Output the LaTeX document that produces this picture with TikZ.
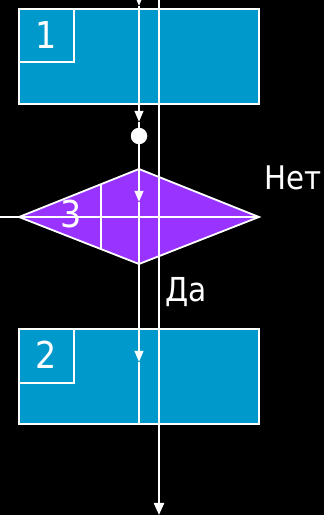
\documentclass[tikz,border=0pt]{standalone}
\usepackage{fontspec}
\setmainfont{DejaVu Sans Condensed}
\usetikzlibrary{arrows.meta}
\definecolor{boxblue}{RGB}{0,153,204}
\definecolor{diapurple}{RGB}{153,51,255}
\tikzset{
  wline/.style={draw=white, line width=2.2pt},
  blk/.style={fill=boxblue, draw=white, line width=2.2pt},
  tip/.style={-{Triangle[width=8.5pt,length=11pt]}},
  bigtip/.style={-{Triangle[width=10pt,length=12pt]}},
  lbl/.style={text=white, inner sep=0pt},
}
\begin{document}
\begin{tikzpicture}[x=1pt,y=1pt]
\useasboundingbox[fill=black] (0,0) rectangle (324,515);
% boxes
\path[blk] (19,411) rectangle (259,506);
\path[blk] (19,453) rectangle (74,506);
\path[blk] (19,91) rectangle (259,186);
\path[blk] (19,132) rectangle (74,186);
% diamond
\path[fill=diapurple, draw=white, line width=1.8pt, line join=miter]
  (19,298) coordinate (dl) -- (139,346) coordinate (dt) -- (259,298) coordinate (dr) -- (139,251) coordinate (db) -- cycle;
\coordinate (vt) at (101,330.5);
\coordinate (vb) at (101,265.5);
\draw[wline] (vt) -- (vb);
\coordinate (hl) at (0,298);
\draw[wline] (hl) -- (dr);
% labels
\node[lbl, font=\fontsize{37}{37}\selectfont] (n1) at (46,480) {1};
\node[lbl, font=\fontsize{37}{37}\selectfont] (n2) at (46,160.5) {2};
\node[lbl, font=\fontsize{37}{37}\selectfont] (n3) at (71,301) {3};
\node[lbl, anchor=base west, font=\fontsize{32.5}{32.5}\selectfont] (net) at (264,325) {Нет};
\node[lbl, anchor=base west, font=\fontsize{33}{33}\selectfont] (da) at (165,213) {Да};
% main line x=139
\coordinate (s0) at (139,530);
\coordinate (a0) at (139,509);
\coordinate (a1) at (139,393);
\node[circle, fill=white, minimum size=16.5pt, inner sep=0pt] (dot) at (139,379) {};
\coordinate (a2) at (139,313);
\coordinate (a3) at (139,153);
\coordinate (e3) at (139,91);
\draw[wline, tip] (s0) -- (a0);
\draw[wline, tip] (a0) -- (a1);
\draw[wline] (a1) -- (dot);
\draw[wline, tip] (dot) -- (a2);
\draw[wline, tip] (a2) -- (a3);
\draw[wline] (a3) -- (e3);
% second line x=159
\coordinate (t0) at (159,530);
\coordinate (t1) at (159,0);
\draw[wline, bigtip] (t0) -- (t1);
\end{tikzpicture}
\end{document}
